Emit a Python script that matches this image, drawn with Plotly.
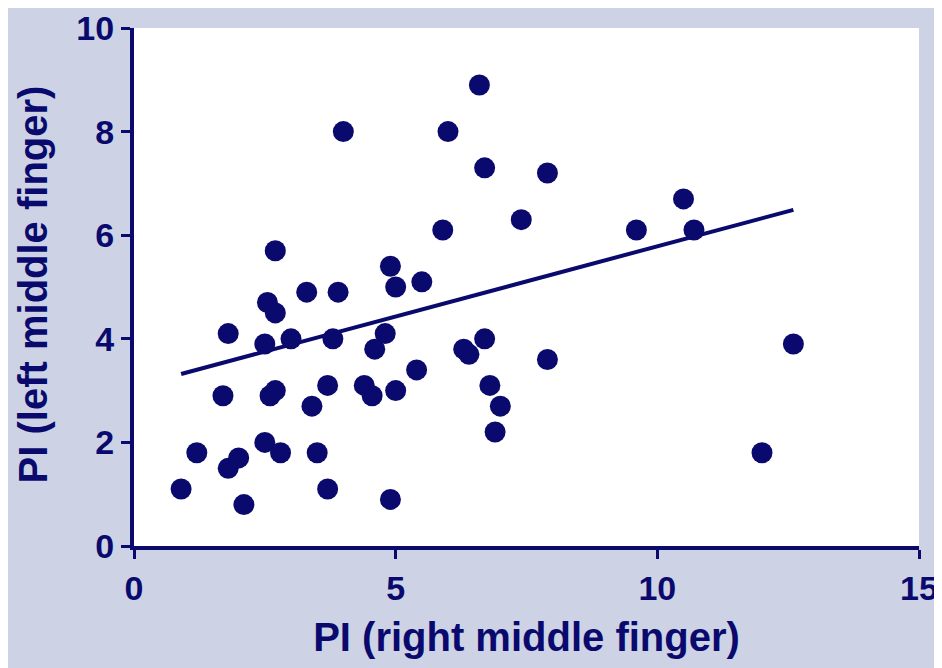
import plotly.graph_objects as go

# Data
pi_right = [0.9, 1.2, 1.7, 1.8, 1.8, 2.0, 2.1, 2.5, 2.5, 2.55, 2.6, 2.7, 2.7, 2.7,
            2.8, 3.0, 3.3, 3.4, 3.5, 3.7, 3.7, 3.8, 3.9, 4.0, 4.4, 4.55, 4.6, 4.8,
            4.9, 4.9, 5.0, 5.0, 5.4, 5.5, 5.9, 6.0, 6.3, 6.4, 6.6, 6.7, 6.7, 6.8,
            6.9, 7.0, 7.4, 7.9, 7.9, 9.6, 10.5, 10.7, 12.0, 12.6]
pi_left = [1.1, 1.8, 2.9, 4.1, 1.5, 1.7, 0.8, 2.0, 3.9, 4.7, 2.9, 5.7, 4.5, 3.0,
           1.8, 4.0, 4.9, 2.7, 1.8, 3.1, 1.1, 4.0, 4.9, 8.0, 3.1, 2.9, 3.8, 4.1,
           5.4, 0.9, 5.0, 3.0, 3.4, 5.1, 6.1, 8.0, 3.8, 3.7, 8.9, 7.3, 4.0, 3.1,
           2.2, 2.7, 6.3, 7.2, 3.6, 6.1, 6.7, 6.1, 1.8, 3.9]

# Regression line end points
fit_x = [0.9, 12.6]
fit_y = [3.32, 6.49]

x_ticks = [0, 5, 10, 15]
y_ticks = [0, 2, 4, 6, 8, 10]

NAVY = "#0a0a6e"
LAVENDER = "#cdd3e5"
FONT = "Liberation Sans, Arial, sans-serif"

fig = go.Figure()
fig.add_trace(go.Scatter(
    x=fit_x, y=fit_y, mode="lines",
    line=dict(color=NAVY, width=4), showlegend=False, hoverinfo="skip"))
fig.add_trace(go.Scatter(
    x=pi_right, y=pi_left, mode="markers",
    marker=dict(color=NAVY, size=21, line=dict(width=0)),
    showlegend=False, cliponaxis=False))

axis_common = dict(
    showline=True, linecolor=NAVY, linewidth=4,
    ticks="outside", ticklen=9, tickwidth=3, tickcolor=NAVY,
    showgrid=False, zeroline=False, automargin=False,
    ticklabeloverflow="allow",
    tickfont=dict(family=FONT, size=34, color=NAVY, weight="bold"),
)

fig.update_xaxes(range=[0, 15], tickvals=x_ticks,
                 title=dict(text="PI (right middle finger)",
                            font=dict(family=FONT, size=40, color=NAVY, weight="bold"),
                            standoff=18),
                 **axis_common)
fig.update_yaxes(range=[0, 10], tickvals=y_ticks, **axis_common)

fig.update_layout(
    width=942, height=668,
    margin=dict(l=126, r=31, t=20, b=130),
    paper_bgcolor=LAVENDER, plot_bgcolor="white",
    font=dict(family=FONT, color=NAVY),
    annotations=[dict(
        text="PI (left middle finger)", textangle=-90,
        xref="paper", yref="paper", x=-0.1287, y=0.505,
        xanchor="center", yanchor="middle", showarrow=False,
        font=dict(family=FONT, size=40, color=NAVY, weight="bold"))],
)

fig.write_html("out.html")
